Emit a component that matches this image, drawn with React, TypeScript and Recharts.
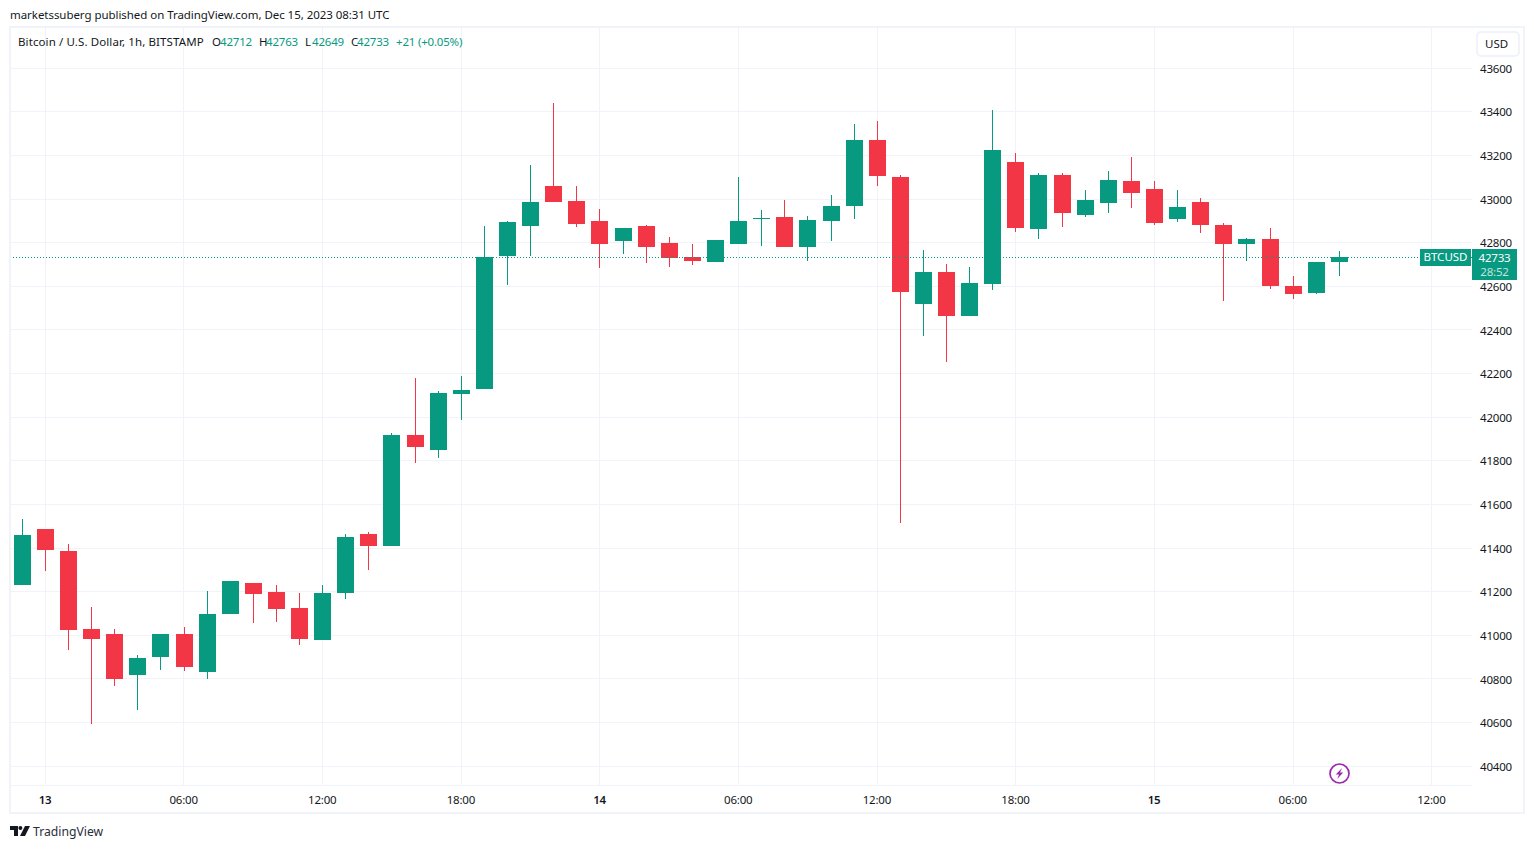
import { Bar, CartesianGrid, ComposedChart, ReferenceLine, XAxis, YAxis } from 'recharts'

const UP = '#089981'
const DOWN = '#F23645'
const GRID = '#F0F3FA'
const TEXT = '#131722'
const FONT = '"Noto Sans", sans-serif'

const opens = [41231, 41488, 41387, 41029, 41006, 40818, 40901, 41006, 40832, 41098, 41240, 41199, 41125, 40979, 41194, 41465, 41410, 41919, 41850, 42107, 42130, 42739, 42877, 43060, 42992, 42900, 42808, 42877, 42799, 42735, 42712, 42794, 42909, 42918, 42781, 42900, 42969, 43271, 43102, 42519, 42666, 42464, 42611, 43170, 42863, 43111, 42927, 42982, 43083, 43047, 42909, 42987, 42882, 42794, 42817, 42602, 42570, 42712]
const highs = [41534, 41488, 41419, 41130, 41029, 40910, 41006, 41038, 41203, 41249, 41240, 41231, 41194, 41231, 41465, 41474, 41928, 42180, 42120, 42189, 42877, 42900, 43157, 43441, 43060, 42955, 42868, 42882, 42827, 42794, 42813, 43102, 42950, 42996, 42923, 43019, 43345, 43358, 43111, 42767, 42703, 42689, 43409, 43212, 43120, 43120, 43042, 43129, 43193, 43083, 43042, 43005, 42891, 42822, 42868, 42648, 42712, 42763]
const lows = [41231, 41295, 40933, 40594, 40768, 40658, 40841, 40837, 40800, 41098, 41057, 41061, 40956, 40979, 41167, 41300, 41410, 41790, 41813, 41987, 42130, 42606, 42739, 42987, 42872, 42684, 42749, 42707, 42689, 42698, 42712, 42794, 42785, 42781, 42716, 42808, 42909, 43060, 41515, 42373, 42253, 42464, 42584, 42849, 42817, 42872, 42918, 42937, 42959, 42882, 42895, 42845, 42533, 42716, 42588, 42542, 42565, 42649]
const closes = [41460, 41391, 41025, 40983, 40800, 40896, 41006, 40855, 41098, 41249, 41190, 41121, 40983, 41194, 41451, 41410, 41919, 41864, 42111, 42125, 42735, 42895, 42987, 42987, 42886, 42794, 42868, 42781, 42730, 42716, 42813, 42900, 42914, 42781, 42904, 42969, 43271, 43106, 42574, 42666, 42464, 42616, 43225, 42868, 43111, 42937, 42996, 43088, 43028, 42891, 42964, 42882, 42794, 42817, 42602, 42565, 42712, 42733]

const priceTicks = [40400, 40600, 40800, 41000, 41200, 41400, 41600, 41800, 42000, 42200, 42400, 42600, 42800, 43000, 43200, 43400, 43600]
const timeTicks = [0, 6, 12, 18, 24, 30, 36, 42, 48, 54, 60]
const timeLabels = ['13', '06:00', '12:00', '18:00', '14', '06:00', '12:00', '18:00', '15', '06:00', '12:00']
const lastClose = 42733

const BAR_WIDTH = 17
const PLOT_LEFT = 11
const PLOT_WIDTH = 1461
const HOUR_DOMAIN = [-1.5077, 61.7226]

const candles = opens.map((open, i) => ({
  hour: i - 1,
  open,
  high: highs[i],
  low: lows[i],
  close: closes[i],
}))

// snap the vertical grid onto the same pixel column as the candle wicks
function gridColumns() {
  const perHour = PLOT_WIDTH / (HOUR_DOMAIN[1] - HOUR_DOMAIN[0])
  return timeTicks.map(t => {
    const center = PLOT_LEFT + (t - HOUR_DOMAIN[0]) * perHour
    return Math.floor(center - BAR_WIDTH / 2) + Math.floor(BAR_WIDTH / 2) + 0.5
  })
}

function Candle(props: any) {
  const { x, y, width, height, payload } = props
  const { open, high, low, close } = payload
  const color = close >= open ? UP : DOWN
  const perUnit = height / (high - low)
  const top = y + (high - Math.max(open, close)) * perUnit
  const bottom = y + (high - Math.min(open, close)) * perUnit
  const left = Math.floor(x + 0.12)
  const bodyTop = Math.round(top)
  const bodyHeight = Math.max(1, Math.round(bottom) - bodyTop)
  return (
    <g>
      <rect x={left + Math.floor(width / 2)} y={Math.round(y)} width={1} height={Math.max(1, Math.round(height))} fill={color} />
      <rect x={left} y={bodyTop} width={width} height={bodyHeight} fill={color} />
    </g>
  )
}

function TimeTick(props: any) {
  const { x, y, payload } = props
  const label = timeLabels[timeTicks.indexOf(payload.value)]
  const isDay = label.length === 2
  return (
    <text x={x - 0.8} y={y + 11} textAnchor="middle" fontSize={11.5} fontFamily={FONT} fontWeight={isDay ? 600 : 400} letterSpacing={-0.2} fill={TEXT}>
      {label}
    </text>
  )
}

function abs(left: number, top: number, extra: any = {}) {
  return {
    position: 'absolute',
    left,
    top,
    fontFamily: FONT,
    fontSize: 11.5,
    lineHeight: '16px',
    whiteSpace: 'nowrap',
    color: TEXT,
    ...extra,
  } as any
}

const legendParts: Array<[number, string, string]> = [
  [212, 'O', TEXT],
  [220, '42712', UP],
  [259, 'H', TEXT],
  [266, '42763', UP],
  [305, 'L', TEXT],
  [312, '42649', UP],
  [351, 'C', TEXT],
  [357, '42733', UP],
  [396, '+21 (+0.05%)', UP],
]

export default function App() {
  return (
    <div style={{ position: 'absolute', left: 0, top: 0, width: 1534, height: 849, background: '#fff', overflow: 'hidden' }}>
      <div style={abs(10, 7, { letterSpacing: -0.05 })}>marketssuberg published on TradingView.com, Dec 15, 2023 08:31 UTC</div>
      <div style={{ position: 'absolute', left: 9, top: 26, width: 1512, height: 784, border: `2px solid ${GRID}` }} />

      <div style={{ position: 'absolute', left: 0, top: 0 }}>
        <ComposedChart
          width={1534}
          height={849}
          data={candles}
          margin={{ top: 27, right: 0, bottom: 0, left: PLOT_LEFT }}
        >
          <CartesianGrid stroke={GRID} strokeWidth={1} shapeRendering="crispEdges" verticalCoordinatesGenerator={gridColumns} />
          <XAxis
            dataKey="hour"
            type="number"
            domain={HOUR_DOMAIN}
            ticks={timeTicks}
            interval={0}
            height={64}
            axisLine={false}
            tickLine={false}
            tick={<TimeTick />}
          />
          <YAxis
            orientation="right"
            type="number"
            domain={[40314, 43789]}
            ticks={priceTicks}
            interval={0}
            width={62}
            axisLine={false}
            tickLine={false}
            tickMargin={2}
            tick={{ fontSize: 11.5, fontFamily: FONT, fill: TEXT, textAnchor: 'start', letterSpacing: -0.2, dy: 0.5 }}
          />
          <Bar
            dataKey={(d: any) => [d.low, d.high]}
            barSize={BAR_WIDTH}
            isAnimationActive={false}
            shape={<Candle />}
          />
          <ReferenceLine y={lastClose} stroke={UP} strokeWidth={1} strokeDasharray="1 2" shapeRendering="crispEdges" />
        </ComposedChart>
      </div>

      <div style={abs(18, 34, { letterSpacing: 0.11 })}>Bitcoin / U.S. Dollar, 1h, BITSTAMP</div>
      {legendParts.map(([left, text, color]) => (
        <div key={left} style={abs(left, 34, { color, letterSpacing: -0.2 })}>{text}</div>
      ))}

      <div style={{ ...abs(1476, 31), width: 44, height: 26, boxSizing: 'border-box', border: `2px solid ${GRID}`, borderRadius: 5, background: '#fff', paddingLeft: 7, lineHeight: '22px' }}>USD</div>

      <div style={{ ...abs(1420, 249, { color: '#fff' }), width: 51, height: 17, background: UP, textAlign: 'center' }}>BTCUSD</div>
      <div style={{ ...abs(1472, 249, { color: '#fff', letterSpacing: -0.2 }), width: 45, height: 31, background: UP, textAlign: 'center', lineHeight: '14px', paddingTop: 2, boxSizing: 'border-box' }}>
        <div>42733</div>
        <div style={{ color: 'rgba(255,255,255,0.75)' }}>28:52</div>
      </div>

      <svg style={{ position: 'absolute', left: 1329, top: 763 }} width={21} height={21} viewBox="0 0 21 21">
        <circle cx={10.5} cy={10.5} r={9.5} fill="#fff" stroke="#9C27B0" strokeWidth={1.7} />
        <path d="M13 5 L6.8 11.6 H10 L8.2 16 L14.2 9.4 H11 Z" fill="#9C27B0" />
      </svg>

      <svg style={{ position: 'absolute', left: 10, top: 826 }} width={20} height={11} viewBox="0 0 20 11">
        <path d="M0 0 H8 V10 H4 V4 H0 Z" fill={TEXT} />
        <circle cx={10.4} cy={2} r={2} fill={TEXT} />
        <path d="M15 0 H20 L15 10 H10 Z" fill={TEXT} />
      </svg>
      <div style={abs(33, 824, { fontSize: 12.2, color: '#2A2E39' })}>TradingView</div>
    </div>
  )
}
